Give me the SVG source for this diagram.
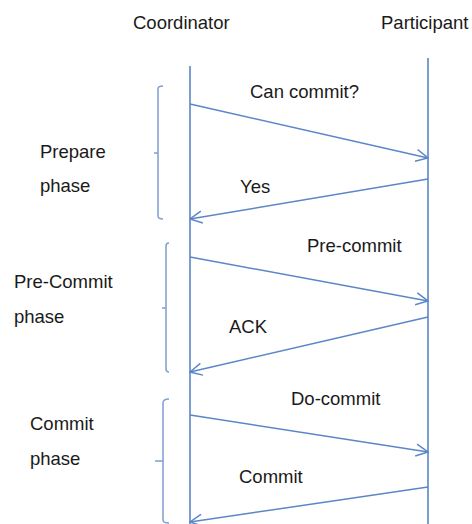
<svg xmlns="http://www.w3.org/2000/svg" width="472" height="524" viewBox="0 0 472 524">
<style>
.t{font-family:"Liberation Sans",Arial,sans-serif;font-size:18.5px;fill:#1a1a1a}
.life{stroke:#4f7cc0;stroke-width:1.5;fill:none}
.msg{stroke:#5b86c8;stroke-width:1.5;fill:none}
.br{stroke:#7f9fd4;stroke-width:1.5;fill:none}
</style>
<defs>
<marker id="ah" viewBox="0 0 14 14" refX="13" refY="7" markerWidth="14" markerHeight="14" markerUnits="userSpaceOnUse" orient="auto">
<path d="M1,1 L13,7 L1,13" fill="none" stroke="#5b86c8" stroke-width="1.5"/>
</marker>
</defs>
<rect width="472" height="524" fill="#ffffff"/>
<g id="coordinator">
<text class="t" x="133" y="29">Coordinator</text>
<line class="life" x1="190" y1="66" x2="190" y2="524"/>
</g>
<g id="participant">
<text class="t" x="381" y="29">Participant</text>
<line class="life" x1="428" y1="58" x2="428" y2="524"/>
</g>
<g id="prepare-phase">
<path class="br" d="M163,86 Q158,86 158,89 L158,216 Q158,219 163,219 M158,153 L154,153"/>
<text class="t" x="40" y="158">Prepare</text>
<text class="t" x="40" y="192">phase</text>
</g>
<g id="precommit-phase">
<path class="br" d="M169,243 Q166,243 166,246 L166,369 Q166,372 169,372 M166,308 L162,308"/>
<text class="t" x="14" y="288">Pre-Commit</text>
<text class="t" x="14" y="323">phase</text>
</g>
<g id="commit-phase">
<path class="br" d="M169,399 Q163,399 163,403 L163,520 Q163,523 169,523 M163,461 L155,461"/>
<text class="t" x="30" y="430">Commit</text>
<text class="t" x="30" y="465">phase</text>
</g>
<g id="connectors">
<line class="msg" x1="190" y1="104" x2="428" y2="158" marker-end="url(#ah)"/>
<line class="msg" x1="428" y1="179" x2="190" y2="219" marker-end="url(#ah)"/>
<line class="msg" x1="190" y1="257" x2="428" y2="301" marker-end="url(#ah)"/>
<line class="msg" x1="428" y1="317" x2="190" y2="372" marker-end="url(#ah)"/>
<line class="msg" x1="190" y1="415" x2="428" y2="452" marker-end="url(#ah)"/>
<line class="msg" x1="428" y1="487" x2="190" y2="522" marker-end="url(#ah)"/>
<text class="t" x="250" y="98">Can commit?</text>
<text class="t" x="240" y="193">Yes</text>
<text class="t" x="307" y="252">Pre-commit</text>
<text class="t" x="229" y="333">ACK</text>
<text class="t" x="291" y="405">Do-commit</text>
<text class="t" x="239" y="483">Commit</text>
</g>
</svg>
